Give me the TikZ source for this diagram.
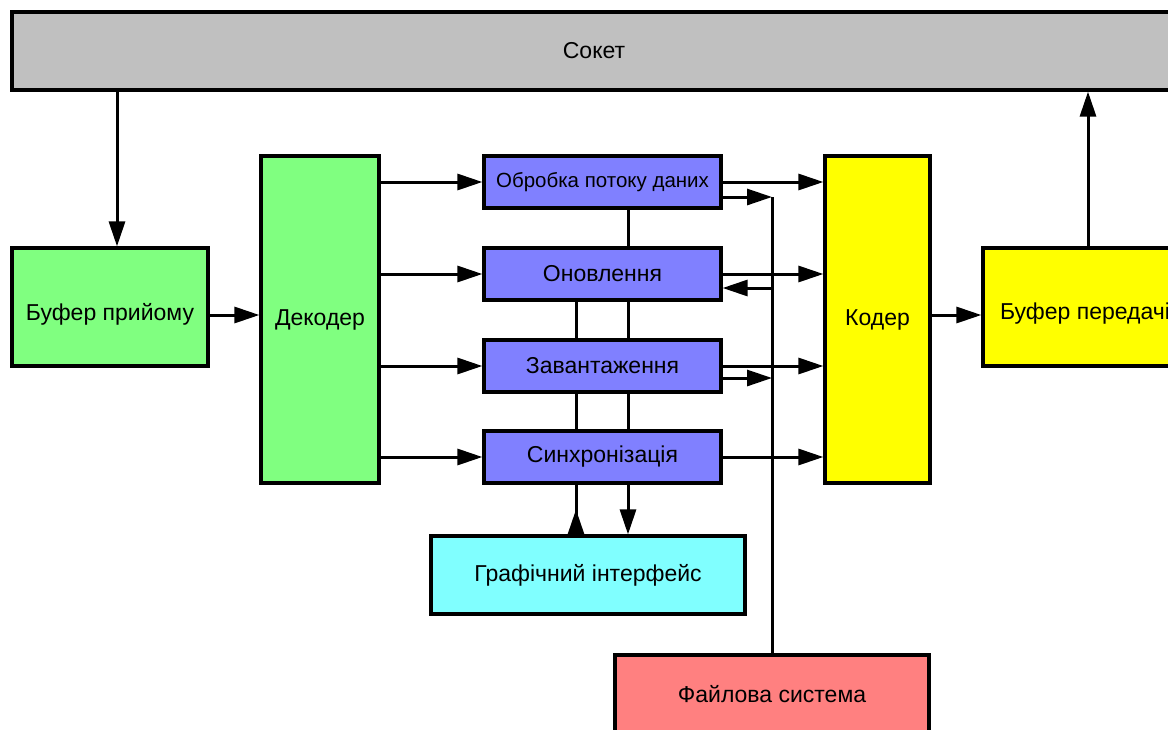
\documentclass[tikz,border=0pt]{standalone}
\usepackage{fontspec}
\setmainfont{Liberation Sans}
\usetikzlibrary{arrows.meta}
\definecolor{cgrey}{HTML}{C0C0C0}
\definecolor{cgreen}{HTML}{80FF80}
\definecolor{cblue}{HTML}{8080FF}
\definecolor{ccyan}{HTML}{80FFFF}
\definecolor{cred}{HTML}{FF8080}
\definecolor{cyel}{HTML}{FFFF00}
\tikzset{
  blk/.style={draw=black, line width=3.2pt, rectangle, inner sep=0pt, align=center,
    font=\fontsize{23}{27}\selectfont},
  arr/.style={line width=3pt, -{Triangle[length=25pt,width=16pt]}},
  rarr/.style={line width=3pt, -{Triangle[length=25pt,width=16pt,reversed]}},
  lnk/.style={line width=3pt},
}
\begin{document}
\begin{tikzpicture}[x=1pt,y=-1pt]
\path[use as bounding box] (0,0) rectangle (1168,729);
\clip (0,0) rectangle (1168,729);
% boxes
\node[blk, fill=cgrey, minimum width=1164pt, minimum height=78pt] (sock) at (594,51) {Сокет};
\node[blk, fill=cgreen, minimum width=196pt, minimum height=118pt] (bufin) at (110,307) {\raisebox{-7pt}[\height][\depth]{Буфер прийому}};
\node[blk, fill=cgreen, minimum width=118pt, minimum height=327pt] (dec) at (320,319.5) {Декодер};
\node[blk, fill=cblue, minimum width=237pt, minimum height=52pt, font=\fontsize{20.5}{24}\selectfont] (obr) at (602.5,182) {Обробка потоку даних};
\node[blk, fill=cblue, minimum width=237pt, minimum height=52pt] (onov) at (602.5,274) {Оновлення};
\node[blk, fill=cblue, minimum width=237pt, minimum height=52pt] (zav) at (602.5,366) {Завантаження};
\node[blk, fill=cblue, minimum width=237pt, minimum height=52pt] (sync) at (602.5,457) {Синхронізація};
\node[blk, fill=ccyan, minimum width=314pt, minimum height=78pt] (gui) at (588,575) {Графічний інтерфейс};
\node[blk, fill=cred, minimum width=314pt, minimum height=78pt] (fs) at (772,694) {Файлова система};
\node[blk, fill=cyel, minimum width=105pt, minimum height=327pt] (coder) at (877.5,319.5) {Кодер};
\node[blk, fill=cyel, minimum width=204pt, minimum height=118pt] (bufout) at (1085,307) {\raisebox{-7pt}[\height][\depth]{Буфер передачі}};
% helper coordinates
\coordinate (xA) at (117,0);
\coordinate (yB) at (0,315);
\coordinate (xL) at (576,0);
\coordinate (xR) at (628,0);
\coordinate (c1) at (772,197);
\coordinate (c2) at (772,288);
\coordinate (c3) at (772,378);
\coordinate (xS) at (1088,0);
% connectors
\draw[arr] (sock.south -| xA) -- (bufin.north -| xA);
\draw[arr] (bufin.east |- yB) -- (dec.west |- yB);
\draw[arr] (dec.east |- obr.west) -- (obr.west);
\draw[arr] (dec.east |- onov.west) -- (onov.west);
\draw[arr] (dec.east |- zav.west) -- (zav.west);
\draw[arr] (dec.east |- sync.west) -- (sync.west);
\draw[arr] (obr.east) -- (coder.west |- obr.east);
\draw[arr] (onov.east) -- (coder.west |- onov.east);
\draw[arr] (zav.east) -- (coder.west |- zav.east);
\draw[arr] (sync.east) -- (coder.west |- sync.east);
\draw[arr] (obr.east |- c1) -- (c1);
\draw[lnk] (c1) -- (fs.north -| c1);
\draw[arr] (c2) -- (onov.east |- c2);
\draw[arr] (zav.east |- c3) -- (c3);
\draw[lnk] (obr.south -| xR) -- (onov.north -| xR);
\draw[lnk] (onov.south -| xL) -- (zav.north -| xL);
\draw[lnk] (onov.south -| xR) -- (zav.north -| xR);
\draw[lnk] (zav.south -| xL) -- (sync.north -| xL);
\draw[lnk] (zav.south -| xR) -- (sync.north -| xR);
\draw[rarr] (sync.south -| xL) -- (gui.north -| xL);
\draw[arr] (sync.south -| xR) -- (gui.north -| xR);
\draw[arr] (coder.east |- yB) -- (bufout.west |- yB);
\draw[arr] (bufout.north -| xS) -- (sock.south -| xS);
\end{tikzpicture}
\end{document}
